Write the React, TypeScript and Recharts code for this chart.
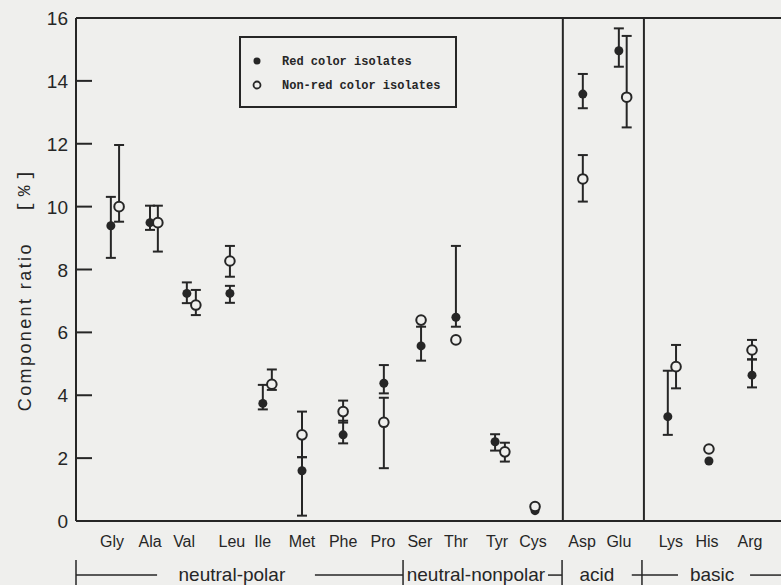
import {
  ComposedChart,
  Scatter,
  XAxis,
  YAxis,
  ErrorBar,
  ReferenceLine,
  ReferenceDot,
  Legend,
} from "recharts";

// amino acids and where their labels sit on the x scale
const acids = ["Gly", "Ala", "Val", "Leu", "Ile", "Met", "Phe", "Pro", "Ser", "Thr", "Tyr", "Cys", "Asp", "Glu", "Lys", "His", "Arg"];
const labelPos = [0.92, 1.89, 2.76, 3.98, 4.77, 5.77, 6.82, 7.84, 8.78, 9.7, 10.75, 11.67, 12.92, 13.86, 15.19, 16.11, 17.21];

// red color isolates (mean, lower and upper end of bar)
const redX = [0.89, 1.89, 2.83, 3.93, 4.77, 5.77, 6.82, 7.86, 8.81, 9.7, 10.7, 11.72, 12.94, 13.86, 15.11, 16.16, 17.26];
const redMean = [9.39, 9.49, 7.24, 7.24, 3.74, 1.6, 2.74, 4.38, 5.57, 6.48, 2.52, 0.33, 13.58, 14.96, 3.32, 1.91, 4.64];
const redLow = [8.37, 9.26, 6.93, 6.94, 3.55, 0.17, 2.47, 4.06, 5.1, 6.18, 2.24, null, 13.13, 14.45, 2.74, null, 4.25];
const redHigh = [10.31, 10.03, 7.59, 7.48, 4.33, 2.03, 3.19, 4.96, 6.18, 8.75, 2.76, null, 14.22, 15.67, 4.78, null, 5.14];

// non-red color isolates
const nonRedX = [1.1, 2.09, 3.06, 3.93, 5.0, 5.77, 6.82, 7.86, 8.81, 9.7, 10.95, 11.72, 12.94, 14.06, 15.32, 16.16, 17.26];
const nonRedMean = [10.0, 9.49, 6.87, 8.27, 4.35, 2.74, 3.48, 3.14, 6.39, 5.76, 2.2, 0.46, 10.88, 13.48, 4.91, 2.29, 5.44];
const nonRedLow = [9.52, 8.57, 6.55, 7.77, 4.17, 2.03, 3.13, 1.68, null, null, 1.89, null, 10.16, 12.52, 4.22, null, 5.14];
const nonRedHigh = [11.96, 10.03, 7.35, 8.75, 4.82, 3.48, 3.83, 3.92, null, null, 2.49, null, 11.64, 15.43, 5.6, null, 5.76];

const yTicks = [0, 2, 4, 6, 8, 10, 12, 14, 16];

// group brackets below the axis
const groupNames = ["neutral-polar", "neutral-nonpolar", "acid", "basic"];
const groupCenters = [3.98, 10.21, 13.3, 16.24];
const groupBounds = [0, 8.35, 12.41, 14.45];
const bracketSegments: [number, number][] = [
  [0, 2.07],
  [6.1, 8.35],
  [12.05, 12.41],
  [14.19, 15.37],
  [17.21, 18],
];
const dividers = [12.43, 14.5];

const INK = "#262626";
const BG = "#efefed";
const SANS = "'Liberation Sans', Arial, sans-serif";
const MONO = "'Liberation Mono', 'DejaVu Sans Mono', monospace";

const BRACKET_Y = -1.72;

function build(xs: number[], means: number[], lows: (number | null)[], highs: (number | null)[]) {
  return xs.map((x, i) => {
    const lo = lows[i];
    const hi = highs[i];
    return {
      x,
      y: means[i],
      err: lo == null || hi == null ? undefined : [means[i] - lo, hi - means[i]],
    };
  });
}

const redData = build(redX, redMean, redLow, redHigh);
const nonRedData = build(nonRedX, nonRedMean, nonRedLow, nonRedHigh);

function YTick(props: any) {
  const { x, y, payload } = props;
  return (
    <g>
      <line x1={x} x2={x + 16} y1={y} y2={y} stroke={INK} strokeWidth={2} />
      <text x={x - 8} y={y + 7} textAnchor="end" fontSize={19} fontFamily={SANS} fill={INK}>
        {payload.value}
      </text>
    </g>
  );
}

function XTick(props: any) {
  const { x, y, index } = props;
  return (
    <text x={x} y={y + 26} textAnchor="middle" fontSize={16} fontFamily={SANS} fill={INK}>
      {acids[index]}
    </text>
  );
}

function LegendBox() {
  return (
    <svg width={218} height={72}>
      <rect x={1} y={1} width={216} height={70} fill="none" stroke={INK} strokeWidth={2} />
      <circle cx={18} cy={25} r={3.5} fill={INK} />
      <circle cx={18} cy={49} r={3.5} fill="none" stroke={INK} strokeWidth={1.8} />
      <text x={43} y={29} fontSize={12} fontWeight="bold" fontFamily={MONO} fill={INK}>
        Red color isolates
      </text>
      <text x={43} y={53} fontSize={12} fontWeight="bold" fontFamily={MONO} fill={INK}>
        Non-red color isolates
      </text>
    </svg>
  );
}

const filledDot = (p: any) => <circle cx={p.cx} cy={p.cy} r={4.5} fill={INK} />;
const openDot = (p: any) => (
  <circle cx={p.cx} cy={p.cy} r={4.8} fill={BG} stroke={INK} strokeWidth={2} />
);

function groupLabel(text: string) {
  return (p: any) => {
    const vb = p.viewBox;
    const cx = vb.x + vb.width / 2;
    const cy = vb.y + vb.height / 2;
    return (
      <text x={cx} y={cy + 6} textAnchor="middle" fontSize={19} fontFamily={SANS} fill={INK}>
        {text}
      </text>
    );
  };
}

function yLabel(p: any) {
  const vb = p.viewBox;
  const x = vb.x + 25;
  const y = 288;
  return (
    <text
      x={x}
      y={y}
      transform={`rotate(-90, ${x}, ${y})`}
      textAnchor="middle"
      dominantBaseline="central"
      fontSize={18}
      letterSpacing={2.4}
      fontFamily={SANS}
      fill={INK}
    >
      Component ratio
      <tspan dx={30} fontFamily={MONO} fontSize={18} letterSpacing={5}>
        [%]
      </tspan>
    </text>
  );
}

export default function App() {
  return (
    <div style={{ position: "absolute", left: 0, top: 0, width: 781, height: 585, background: BG }}>
      <ComposedChart
        width={781}
        height={585}
        margin={{ top: 18, right: 0, bottom: 0, left: 0 }}
      >
        <XAxis
          type="number"
          dataKey="x"
          domain={[0, 18]}
          ticks={labelPos}
          interval={0}
          tick={<XTick />}
          tickLine={false}
          tickSize={0}
          tickMargin={0}
          axisLine={{ stroke: INK, strokeWidth: 2 }}
          height={64}
          allowDataOverflow
        />
        <YAxis
          type="number"
          dataKey="y"
          domain={[0, 16]}
          ticks={yTicks}
          interval={0}
          tick={<YTick />}
          tickLine={false}
          tickSize={0}
          tickMargin={0}
          axisLine={{ stroke: INK, strokeWidth: 2 }}
          width={76}
          label={{ content: yLabel }}
        />
        <ReferenceLine y={16} stroke={INK} strokeWidth={2} />
        {dividers.map((d) => (
          <ReferenceLine key={d} x={d} stroke={INK} strokeWidth={2} />
        ))}
        {bracketSegments.map(([a, b]) => (
          <ReferenceLine
            key={`s${a}`}
            segment={[
              { x: a, y: BRACKET_Y },
              { x: b, y: BRACKET_Y },
            ]}
            stroke={INK}
            strokeWidth={1.5}
            ifOverflow="visible"
          />
        ))}
        {groupBounds.map((g) => (
          <ReferenceLine
            key={`b${g}`}
            segment={[
              { x: g, y: -1.24 },
              { x: g, y: -2.3 },
            ]}
            stroke={INK}
            strokeWidth={1.5}
            ifOverflow="visible"
          />
        ))}
        {groupNames.map((name, i) => (
          <ReferenceDot
            key={name}
            x={groupCenters[i]}
            y={BRACKET_Y}
            r={0}
            fill="none"
            stroke="none"
            ifOverflow="visible"
            label={{ content: groupLabel(name) }}
          />
        ))}
        <Scatter name="Red color isolates" data={redData} shape={filledDot} isAnimationActive={false}>
          <ErrorBar dataKey="err" direction="y" width={5} stroke={INK} strokeWidth={2} />
        </Scatter>
        <Scatter name="Non-red color isolates" data={nonRedData} shape={openDot} isAnimationActive={false}>
          <ErrorBar dataKey="err" direction="y" width={5} stroke={INK} strokeWidth={2} />
        </Scatter>
        <Legend
          layout="horizontal"
          verticalAlign="middle"
          content={() => <LegendBox />}
          wrapperStyle={{ position: "absolute", left: 239, top: 36, width: 218, height: 72 }}
        />
      </ComposedChart>
    </div>
  );
}
